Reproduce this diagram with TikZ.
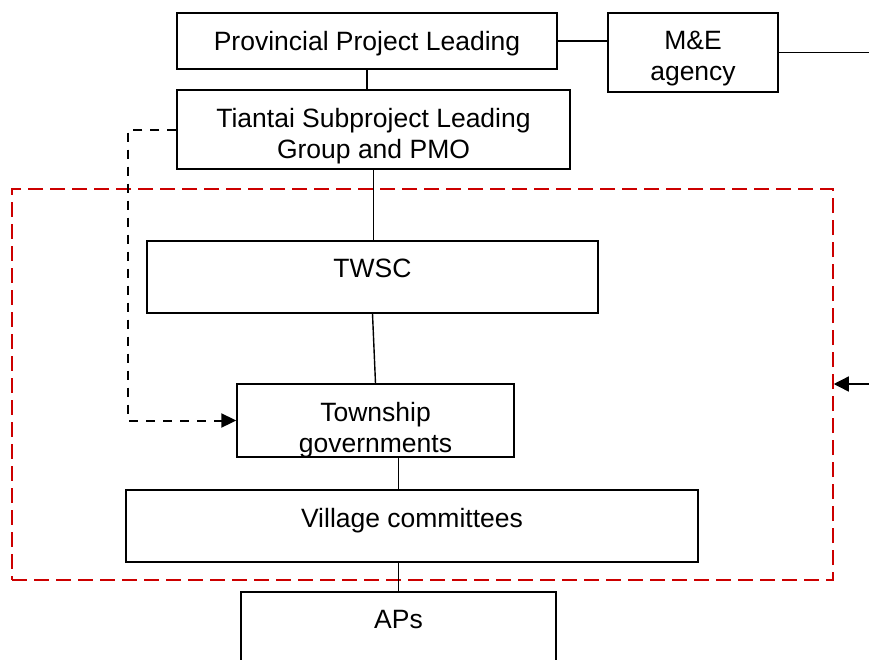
\documentclass[tikz,border=0pt]{standalone}
\usepackage{fontspec}
\setmainfont{Liberation Sans}
\usepackage{tikz}
\usetikzlibrary{positioning}
\usetikzlibrary{arrows.meta}
\newcommand{\boxtxt}[3]{\parbox[c][#2][t]{#1}{\centering\vspace*{18pt}#3}}

\begin{document}
\begin{tikzpicture}[x=1pt,y=-1pt,on grid,
   box/.style={draw,line width=1.4pt,inner sep=0pt,font=\fontsize{26.5}{31}\selectfont},
   zone/.style={draw=red!80!black,line width=1.5pt,dash pattern=on 15pt off 7pt,inner sep=0pt},
   link/.style={line width=1.4pt},
   dlink/.style={line width=2pt,dash pattern=on 9pt off 8pt}]
   \useasboundingbox (0,0) rectangle (869,659);
   \node[zone,minimum width=821pt,minimum height=391pt] (zone) at (422.5,384.5) {};
   \node[box] (prov) at (367,41) {\boxtxt{380pt}{56pt}{Provincial Project Leading}};
   \node[box] (me) [below right=11.5pt and 326pt of prov] {\boxtxt{170pt}{79pt}{M\&E\\agency}};
   \node[box] (tian) [below right=88.5pt and 6.5pt of prov] {\boxtxt{393pt}{79pt}{Tiantai Subproject Leading\\Group and PMO}};
   \node[box] (twsc) [below left=147.5pt and 1pt of tian] {\boxtxt{451pt}{72pt}{TWSC}};
   \node[box] (town) [below right=143.5pt and 3pt of twsc] {\boxtxt{277pt}{73pt}{Township\\governments}};
   \node[box] (vill) [below right=105.5pt and 36.5pt of town] {\boxtxt{572pt}{72pt}{Village committees}};
   \node[box] (aps) [below left=102.5pt and 13.5pt of vill] {\boxtxt{315pt}{73pt}{APs}};
   \coordinate (mefree) at (869,52.5);
   \coordinate (infree) at (869,384);
   \draw[link] (prov.east) -- (prov.east -| me.west);
   \draw[link] (me.east) -- (mefree);
   \draw[link,-{Triangle[length=15pt,width=15pt]}] (infree) -- (infree -| zone.east);
   \draw[link] (prov.south) -- (prov.south |- tian.north);
   \draw[dlink,-{Triangle[length=15pt,width=14pt]}] (tian.west) -- ++(-48,0) |- (town.west);
   \draw[link] (tian.south) -- (tian.south |- twsc.north);
   \draw[link] (twsc.south) -- (town.north);
   \draw[link] (town.south -| aps.north) -- (aps.north |- vill.north);
   \draw[link] (vill.south -| aps.north) -- (aps.north);
\end{tikzpicture}
\end{document}
